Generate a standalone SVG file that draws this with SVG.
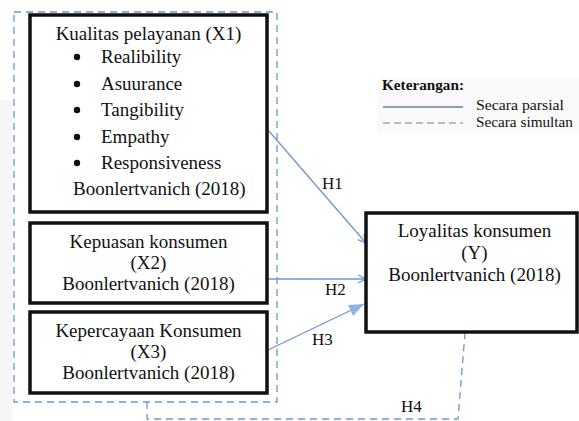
<svg xmlns="http://www.w3.org/2000/svg" width="579" height="421" viewBox="0 0 579 421">
<style>
text{font-family:"Liberation Serif","Times New Roman",serif;fill:#111;}
.t{font-size:19px;}
.c{text-anchor:middle;}
.box{fill:#fff;stroke:#111;stroke-width:3.5;}
.arr{stroke:#6a98d2;stroke-width:1.3;fill:none;}
.dash{stroke:#6a98d2;stroke-width:1.3;fill:none;stroke-dasharray:7,5;}
.lbl{font-size:17px;}
.leg{font-size:15px;}
</style>
<defs>
<marker id="ah" markerWidth="10" markerHeight="10" refX="9" refY="5" orient="auto" markerUnits="userSpaceOnUse">
<path d="M1,1 L9,5 L1,9" fill="none" stroke="#6a98d2" stroke-width="1.3"/>
</marker>
<marker id="ahf" markerWidth="16" markerHeight="12" refX="15" refY="6" orient="auto" markerUnits="userSpaceOnUse">
<path d="M0,0 L15,6 L0,12 Z" fill="#8fb3e0"/>
</marker>
</defs>
<rect x="0" y="0" width="579" height="421" fill="#fff"/>
<rect x="0" y="100" width="12" height="321" fill="#f6f6f6"/>
<g id="outer-group">
<rect x="14" y="12" width="263" height="390" class="dash"/>
</g>
<g id="connectors">
<line x1="268" y1="130" x2="366" y2="243" class="arr" marker-end="url(#ah)"/>
<line x1="268" y1="279" x2="366" y2="279" class="arr" marker-end="url(#ah)"/>
<line x1="268" y1="350" x2="364" y2="304" class="arr" marker-end="url(#ahf)"/>
<polyline points="147,402 147,419 458,419 465,333" class="dash"/>
</g>
<g id="labels">
<text x="322" y="189" class="lbl">H1</text>
<text x="325" y="295" class="lbl">H2</text>
<text x="312" y="345" class="lbl">H3</text>
<text x="401" y="412" class="lbl">H4</text>
</g>
<g id="x1">
<rect x="30" y="15" width="237" height="197" class="box"/>
<text x="148.5" y="40" class="t c">Kualitas pelayanan (X1)</text>
<g class="t">
<circle cx="77" cy="57" r="3.2" fill="#111"/>
<text x="101" y="63">Realibility</text>
<circle cx="77" cy="84" r="3.2" fill="#111"/>
<text x="101" y="90">Asuurance</text>
<circle cx="77" cy="110" r="3.2" fill="#111"/>
<text x="101" y="116">Tangibility</text>
<circle cx="77" cy="137" r="3.2" fill="#111"/>
<text x="101" y="143">Empathy</text>
<circle cx="77" cy="163" r="3.2" fill="#111"/>
<text x="101" y="169">Responsiveness</text>
</g>
<text x="73" y="195" class="t">Boonlertvanich (2018)</text>
</g>
<g id="x2">
<rect x="30" y="223" width="237" height="80" class="box"/>
<text x="148.5" y="248" class="t c">Kepuasan konsumen</text>
<text x="148.5" y="269" class="t c">(X2)</text>
<text x="148.5" y="290" class="t c">Boonlertvanich (2018)</text>
</g>
<g id="x3">
<rect x="30" y="312" width="237" height="81" class="box"/>
<text x="148.5" y="337" class="t c">Kepercayaan Konsumen</text>
<text x="148.5" y="358" class="t c">(X3)</text>
<text x="148.5" y="379" class="t c">Boonlertvanich (2018)</text>
</g>
<g id="y">
<rect x="366" y="213" width="211" height="119" class="box"/>
<text x="474.5" y="237" class="t c">Loyalitas konsumen</text>
<text x="474.5" y="259" class="t c">(Y)</text>
<text x="474.5" y="281" class="t c">Boonlertvanich (2018)</text>
</g>
<g id="legend">
<rect x="378" y="78" width="201" height="54" fill="#fafafa"/>
<text x="382" y="90" class="leg" font-weight="bold" textLength="82" lengthAdjust="spacingAndGlyphs">Keterangan:</text>
<line x1="383" y1="107" x2="463" y2="107" stroke="#6a7fa0" stroke-width="1.3"/>
<text x="476" y="110" class="leg" textLength="88" lengthAdjust="spacingAndGlyphs">Secara parsial</text>
<line x1="383" y1="123" x2="463" y2="123" stroke="#6a7fa0" stroke-width="1.2" stroke-dasharray="7,4"/>
<text x="476" y="127" class="leg" textLength="97" lengthAdjust="spacingAndGlyphs">Secara simultan</text>
</g>
</svg>
